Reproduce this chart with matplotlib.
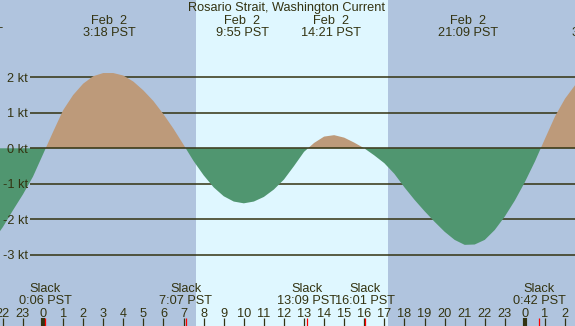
import numpy as np
import matplotlib.pyplot as plt

# current speed (kt) every half hour, hours from midnight Feb 2
hours = np.arange(-2.5, 27.01, 0.5)
speed = [-2.62, -2.22, -1.75, -1.30, -0.80, -0.17, 0.46, 1.07, 1.50, 1.82,
         2.03, 2.12, 2.12, 2.05, 1.88, 1.63, 1.33, 0.96, 0.55, 0.10,
         -0.36, -0.76, -1.10, -1.35, -1.50, -1.55, -1.50, -1.37, -1.16, -0.88,
         -0.50, -0.10, 0.15, 0.33, 0.37, 0.30, 0.16, 0.00, -0.20, -0.42,
         -0.72, -1.10, -1.45, -1.77, -2.07, -2.35, -2.58, -2.72, -2.71, -2.58,
         -2.30, -1.92, -1.47, -0.95, -0.37, 0.27, 0.90, 1.40, 1.78, 2.05]

# max / min current events (top labels)
ext_clock = ['20:30', '3:18', '9:55', '14:21', '21:09', '3:39']
ext_day = [-1, 0, 0, 0, 0, 1]
ext_date = ['Feb  1', 'Feb  2', 'Feb  2', 'Feb  2', 'Feb  2', 'Feb  3']

# slack water events (bottom labels)
slack_clock = ['0:06', '7:07', '13:09', '16:01', '0:42']
slack_day = [0, 0, 0, 0, 1]

sunrise = '7:37'
sunset = '17:11'
grid_kt = [-3, -2, -1, 0, 1, 2]

title = 'Rosario Strait, Washington Current'

night = '#b0c4de'
day = '#dff7ff'
flood = '#bd9a7a'
ebb = '#509670'
ink = '#333311'
fs = 9.2
fam = 'Liberation Sans'


def clock2h(s, d=0):
    h, m = s.split(':')
    return d * 24 + int(h) + int(m) / 60.0


# pixel -> data helpers for label placement
def hx(x):
    return (x - 43) / 20.08


def vy(y):
    return (148.3 - y) / 35.5


fig = plt.figure(figsize=(5.75, 3.26), dpi=100)
fig.patch.set_facecolor(night)
ax = fig.add_axes([0, 0, 1, 1])
ax.axis('off')
ax.set_xlim(hx(0), hx(575))
ax.set_ylim(vy(326), vy(0))

ax.axvspan(clock2h(sunrise), clock2h(sunset), color=day, lw=0, zorder=0)

# grid lines, behind the fill except the zero line
for k in grid_kt:
    ax.hlines(k, hx(30), hx(575), color=ink, lw=1.1, zorder=3 if k == 0 else 1)
    ax.text(hx(28), k - 4.4 / 35.5, '%d kt' % k, ha='right', va='baseline',
            fontsize=fs, family=fam, color=ink, zorder=4)

spd = np.array(speed)
ax.fill_between(hours, spd, 0, where=spd >= 0, interpolate=True, color=flood, lw=0, zorder=2)
ax.fill_between(hours, spd, 0, where=spd <= 0, interpolate=True, color=ebb, lw=0, zorder=2)

ax.text(hx(286.7), vy(11.5), title, ha='center', va='baseline', fontsize=fs, family=fam, color=ink)

for c, d, dt in zip(ext_clock, ext_day, ext_date):
    t = clock2h(c, d)
    ax.text(t, vy(24.3), dt, ha='center', va='baseline', fontsize=fs, family=fam, color=ink)
    ax.text(t, vy(36.2), c + ' PST', ha='center', va='baseline', fontsize=fs, family=fam, color=ink)

for c, d in zip(slack_clock, slack_day):
    t = clock2h(c, d)
    ax.text(t, vy(291.7), 'Slack', ha='center', va='baseline', fontsize=fs, family=fam, color=ink)
    ax.text(t, vy(304.3), c + ' PST', ha='center', va='baseline', fontsize=fs, family=fam, color=ink)
    ax.vlines(t, vy(326), vy(318), color='red', lw=0.9, zorder=5)

# hour ticks along the bottom
for h in range(-2, 27):
    ax.text(h, vy(316.7), str(h % 24), ha='center', va='baseline', fontsize=fs, family=fam, color=ink)
    ax.vlines(h, vy(326), vy(318), color=ink, lw=3.0 if h % 24 == 0 else 0.9, zorder=4)

fig.savefig('out.png', dpi=100, facecolor=night)
